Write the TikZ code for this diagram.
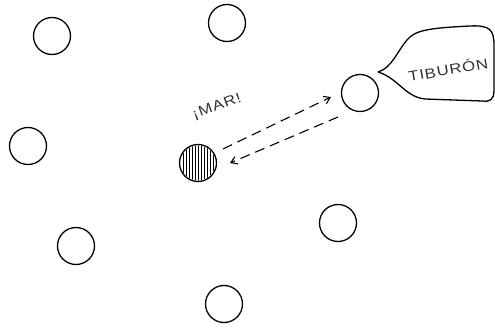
\documentclass[tikz,border=0pt]{standalone}
\usepackage{fontspec}
\setmainfont{Liberation Sans}
\newfontfamily\widesans[FakeStretch=1.2,LetterSpace=6]{Liberation Sans}
\usetikzlibrary{arrows.meta}
\begin{document}
\begin{tikzpicture}[x=1pt,y=-1pt,
  fish/.style={circle,draw,line width=1.3pt,minimum size=37pt,inner sep=0pt},
  talk/.style={dashed,dash pattern=on 10pt off 6pt,line width=1.1pt,-{Straight Barb[length=6pt,width=8pt]}},
  lbl/.style={font=\widesans\fontsize{14}{16}\selectfont,text=black!80,inner sep=1pt}]
\useasboundingbox (0,0) rectangle (495,328);
\node[fish] (c1) at (52,36) {};
\node[fish] (c2) at (227,23) {};
\node[fish] (c3) at (28,146) {};
\node[fish] (c5) at (360,93) {};
\node[fish] (c6) at (338,223) {};
\node[fish] (c7) at (76,246) {};
\node[fish] (c8) at (224,304) {};
\node[fish] (s) at (198,163) {};
\begin{scope}
  \clip (s.center) circle (17.5pt);
  \foreach \dx in {-15,-12,...,15} {
    \draw[line width=0.8pt] ([xshift=\dx pt]s.center) ++(0,-19) -- ++(0,38);
  }
\end{scope}
\node[lbl,rotate=20] (mar) at (217,107) {¡MAR!};
\coordinate (a1s) at (223,149);
\coordinate (a1e) at (331,97);
\coordinate (a2s) at (338,117);
\coordinate (a2e) at (230,163);
\draw[talk] (a1s) -- (a1e);
\draw[talk] (a2s) -- (a2e);
\coordinate (tip) at (378,72);
\draw[line width=1.3pt,line join=round] (tip) .. controls (392,68) and (398,50) .. (407,40)
  .. controls (415,30) and (430,28) .. (470,26)
  .. controls (490,25) and (494,30) .. (494,45)
  -- (494,90) .. controls (494,100) and (490,102) .. (482,101)
  -- (425,99) .. controls (405,97) and (398,78) .. (tip);
\node[lbl,rotate=10] (tib) at (448,69) {TIBURÓN};
\end{tikzpicture}
\end{document}
